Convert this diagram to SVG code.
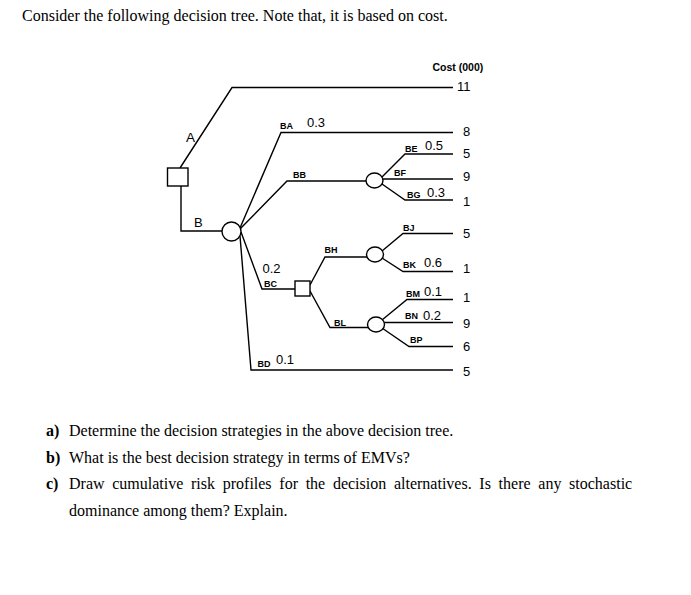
<svg xmlns="http://www.w3.org/2000/svg" width="691" height="595" viewBox="0 0 691 595">
<style>
.ln{fill:none;stroke:#000;stroke-width:1.4}
.nd{fill:#fff;stroke:#000;stroke-width:1.4}
.s{font-family:"Liberation Sans",Arial,sans-serif;fill:#000}
.lb{font-size:9px;font-weight:bold}
.pv{font-size:13px}
.q{font-family:"Liberation Serif","Times New Roman",serif;font-size:16px;fill:#000}
.b{font-weight:bold}
</style>
<rect width="691" height="595" fill="#fff"/>
<text class="q" x="22" y="20.5">Consider the following decision tree. Note that, it is based on cost.</text>

<g id="connectors" class="ln">
<path d="M180,168 L232,87.5 H453"/>
<path d="M181,186 V231 H222"/>
<path d="M240,228 L281,132.5 H453"/>
<path d="M240,229 L287,181 H366"/>
<path d="M241,232 L262,289 H295"/>
<path d="M240,236 L251,370 H453"/>
<path d="M382,177 L405,154 H453"/>
<path d="M383,179 H453"/>
<path d="M382,184 L405,200 H453"/>
<path d="M310,285 L325,257 H367"/>
<path d="M310,291 L330,327.5 H368"/>
<path d="M382,251 L403,233.5 H453"/>
<path d="M382,258 L403,271.5 H453"/>
<path d="M382,320 L407,299.5 H453"/>
<path d="M384,322.5 H453"/>
<path d="M382,328 L409,346.5 H453"/>
</g>

<g id="decision-AB"><rect class="nd" x="167.5" y="168" width="20.5" height="18"/></g>
<g id="chance-B"><circle class="nd" cx="231.5" cy="231.5" r="9.5"/></g>
<g id="chance-BB"><ellipse class="nd" cx="374.5" cy="180.5" rx="8.5" ry="7.5"/></g>
<g id="decision-BC"><rect class="nd" x="295" y="281" width="15" height="15"/></g>
<g id="chance-BH"><ellipse class="nd" cx="375" cy="254.5" rx="8.5" ry="7.5"/></g>
<g id="chance-BL"><ellipse class="nd" cx="376" cy="324.5" rx="8.5" ry="7.5"/></g>

<g id="labels" class="s">
<text x="186" y="142.3" font-size="13.5">A</text>
<text x="194" y="226.7" font-size="13">B</text>
<g class="lb">
<text x="280" y="129">BA</text>
<text x="293" y="178">BB</text>
<text x="405" y="151.5">BE</text>
<text x="394" y="175.7">BF</text>
<text x="407" y="198.3">BG</text>
<text x="403" y="230.7">BJ</text>
<text x="403" y="267.7">BK</text>
<text x="324.5" y="253.3">BH</text>
<text x="264" y="286.5">BC</text>
<text x="334" y="326">BL</text>
<text x="406" y="297">BM</text>
<text x="405" y="319">BN</text>
<text x="410" y="343.3">BP</text>
<text x="257.5" y="366.7">BD</text>
</g>
<g class="pv">
<text x="307" y="127.3">0.3</text>
<text x="425" y="150">0.5</text>
<text x="427" y="196.5">0.3</text>
<text x="424" y="266.5">0.6</text>
<text x="262.5" y="273.3">0.2</text>
<text x="424" y="296">0.1</text>
<text x="423" y="320">0.2</text>
<text x="276" y="364">0.1</text>
</g>
</g>

<g id="costs" class="s">
<text x="432.5" y="70.5" font-size="10.5" font-weight="bold">Cost (000)</text>
<g class="pv">
<text x="457" y="91">11</text>
<text x="463" y="136">8</text>
<text x="463" y="158">5</text>
<text x="463" y="181">9</text>
<text x="463" y="206">1</text>
<text x="463" y="237.5">5</text>
<text x="463" y="273">1</text>
<text x="463" y="302">1</text>
<text x="463" y="327.5">9</text>
<text x="463" y="350.5">6</text>
<text x="463" y="376">5</text>
</g>
</g>

<g id="questions" class="q">
<text y="436"><tspan class="b" x="46">a)</tspan><tspan x="69">Determine the decision strategies in the above decision tree.</tspan></text>
<text y="462.5"><tspan class="b" x="46">b)</tspan><tspan x="69">What is the best decision strategy in terms of EMVs?</tspan></text>
<text y="489"><tspan class="b" x="46">c)</tspan><tspan x="69" word-spacing="3.7">Draw cumulative risk profiles for the decision alternatives. Is there any stochastic</tspan></text>
<text y="515.5" x="69">dominance among them? Explain.</text>
</g>
</svg>
